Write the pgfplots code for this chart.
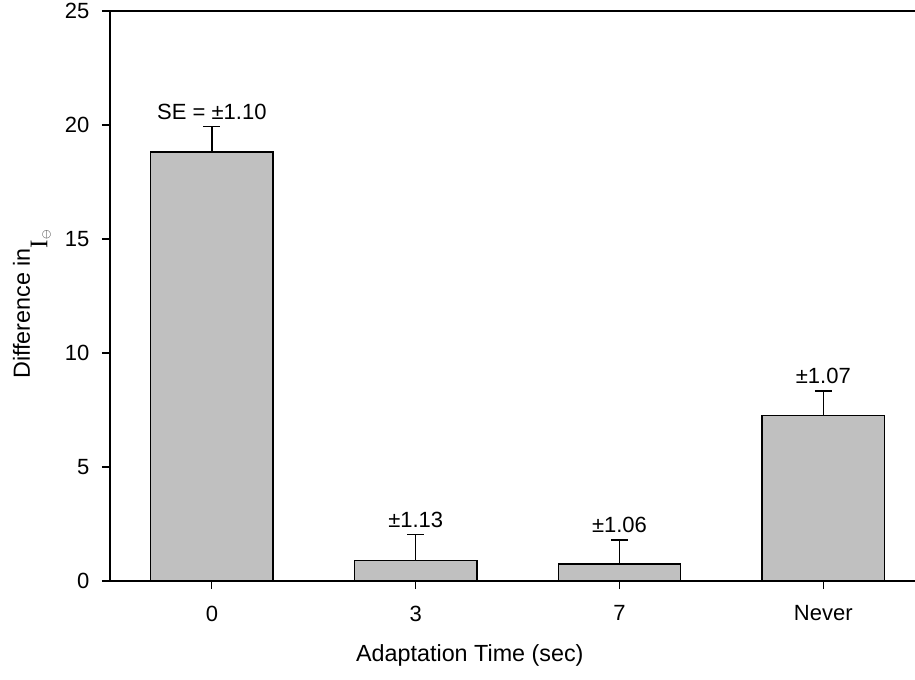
\documentclass[border=0pt]{standalone}
\usepackage{pgfplots}
\pgfplotsset{compat=1.18}
\usepackage{fontspec}
\setmainfont{Liberation Sans}
\newfontfamily\serifI{Liberation Serif}
\definecolor{bargray}{RGB}{192,192,192}
\begin{document}
\begin{tikzpicture}
\begin{axis}[name=ax,
  scale only axis, width=603.75pt, height=427.5pt,
  xmin=-0.5, xmax=3.45, ymin=0, ymax=25,
  axis x line*=bottom, axis y line*=left,
  axis line style={-, line width=1.1pt},
  xtick={0,1,2,3}, xticklabels={0,3,7,Never},
  ytick={0,5,10,15,20,25},
  tick align=outside, major tick length=6pt,
  tick style={black, line width=0.8pt},
  font=\fontsize{16.5}{19}\selectfont,
  /pgf/number format/assume math mode=true,
  xticklabel style={yshift=-9pt},
  yticklabel style={xshift=-6pt},
  xlabel={Adaptation Time (sec)},
  ylabel={Difference in\raisebox{-0.75em}{{\serifI\fontsize{19}{20}\selectfont I}\raisebox{-0.1em}{$\scriptscriptstyle\ominus$}}},
  xlabel style={at={(axis description cs:0.447,-0.13)}, anchor=center, font=\fontsize{17.5}{20}\selectfont},
  ylabel style={at={(axis description cs:-0.097,0.485)}, anchor=center, font=\fontsize{17.5}{20}\selectfont},
  clip=false,
]
\addplot[ybar, bar width=0.6, fill=bargray, draw=black, line width=1.1pt,
  error bars/.cd, y dir=plus, y explicit,
  error bar style={line width=0.9pt},
  error mark options={rotate=90, mark size=6.4pt, line width=0.9pt}]
  coordinates {(0,18.82) +- (0,1.10) (1,0.90) +- (0,1.13) (2,0.74) +- (0,1.06) (3,7.26) +- (0,1.07)};
\addplot[draw=none, mark=none, nodes near coords, point meta=explicit symbolic,
  every node near coord/.append style={anchor=south, inner sep=2pt, yshift=3pt, font=\fontsize{16.5}{19}\selectfont}]
  coordinates {(0,19.92) [SE = ±1.10] (1,2.03) [±1.13] (2,1.80) [±1.06] (3,8.33) [±1.07]};
\draw[line width=1.1pt] (rel axis cs:0,1) -- (rel axis cs:1,1);
\end{axis}
\pgfresetboundingbox
\path ([xshift=-82.5pt,yshift=-74.25pt]ax.south west) rectangle ([yshift=8.25pt]ax.north east);
\end{tikzpicture}
\end{document}
